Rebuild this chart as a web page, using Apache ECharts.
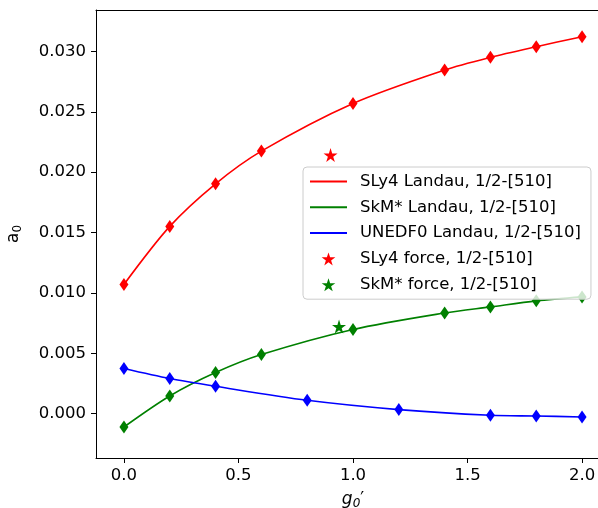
<!DOCTYPE html>
<html>
<head>
<meta charset="utf-8">
<script src="https://cdn.jsdelivr.net/npm/echarts@6/dist/echarts.min.js"></script>
<style>
  html, body { margin: 0; padding: 0; background: #fff; overflow: hidden; }
  #chart { width: 598px; height: 508px; }
</style>
</head>
<body>
<div id="chart"></div>
<script type="text/javascript">
    // x 坐标 (g0')
    var xLandau = [0, 0.2, 0.4, 0.6, 1.0, 1.4, 1.6, 1.8, 2.0];
    var xUnedf = [0, 0.2, 0.4, 0.8, 1.2, 1.6, 1.8, 2.0];
    // a0 数值
    var sly4Landau = [0.01070, 0.01551, 0.01904, 0.02175, 0.02570, 0.02847, 0.02952, 0.03040, 0.03123];
    var skmLandau = [-0.00111, 0.00146, 0.00340, 0.00489, 0.00697, 0.00834, 0.00884, 0.00934, 0.00967];
    var unedfLandau = [0.00373, 0.00290, 0.00226, 0.00110, 0.00033, -0.00014, -0.00020, -0.00028];
    var sly4Force = [[0.902, 0.02142]];
    var skmForce = [[0.939, 0.00721]];
    // 刻度
    var xTicks = [0, 0.5, 1.0, 1.5, 2.0];
    var yTicks = [0, 0.005, 0.010, 0.015, 0.020, 0.025, 0.030];
    var names = ['SLy4 Landau, 1/2-[510]', 'SkM* Landau, 1/2-[510]', 'UNEDF0 Landau, 1/2-[510]',
                 'SLy4 force, 1/2-[510]', 'SkM* force, 1/2-[510]'];

    function pairs(xs, ys) {
        return xs.map(function (x, i) { return [x, ys[i]]; });
    }

    var starPath = 'path://M0,-10 L2.245,-3.09 L9.511,-3.09 L3.633,1.18 L5.878,8.09 L0,3.82 L-5.878,8.09 L-3.633,1.18 L-9.511,-3.09 L-2.245,-3.09 Z';
    var linePath = 'path://M0,0 L37,0 L37,2 L0,2 Z';
    var font = 'DejaVu Sans';

    var chart = echarts.init(document.getElementById('chart'));

    function landau(name, data, color) {
        return {
            name: name,
            type: 'line',
            data: data,
            smooth: 0.3,
            symbol: 'diamond',
            symbolSize: [9, 13],
            lineStyle: { color: color, width: 1.6 },
            itemStyle: { color: color, opacity: 1 },
            z: 3
        };
    }

    var option = {
        animation: false,
        grid: {
            left: 96, top: 10, right: -12, bottom: 50,
            containLabel: false, outerBoundsMode: 'none'
        },
        xAxis: [{
            type: 'value',
            min: -0.122,
            max: 2.122,
            name: '{g|g}{s|0}{p|′}',
            nameLocation: 'middle',
            nameGap: 32,
            nameTextStyle: {
                rich: {
                    g: { fontFamily: font, fontSize: 17, fontStyle: 'italic', color: '#000' },
                    s: { fontFamily: font, fontSize: 12, fontStyle: 'italic', color: '#000', padding: [8, 0, 0, 0] },
                    p: { fontFamily: font, fontSize: 17, color: '#000' }
                }
            },
            axisLine: { show: true, onZero: false, lineStyle: { color: '#000', width: 1 } },
            axisTick: { show: true, length: 5, customValues: xTicks, lineStyle: { color: '#000' } },
            axisLabel: {
                customValues: xTicks, margin: 9, color: '#000', fontFamily: font, fontSize: 16.5,
                formatter: function (v) { return v.toFixed(1); }
            },
            splitLine: { show: false }
        }, {
            // 上边框
            type: 'value',
            position: 'top',
            min: -0.122,
            max: 2.122,
            axisLine: { show: true, onZero: false, lineStyle: { color: '#000', width: 1 } },
            axisTick: { show: false },
            axisLabel: { show: false },
            splitLine: { show: false }
        }],
        yAxis: {
            type: 'value',
            min: -0.00368,
            max: 0.03344,
            name: '{a|a}{s|0}',
            nameLocation: 'middle',
            nameGap: 72,
            nameTextStyle: {
                rich: {
                    a: { fontFamily: font, fontSize: 17, color: '#000' },
                    s: { fontFamily: font, fontSize: 12, color: '#000', padding: [8, 0, 0, 0] }
                }
            },
            axisLine: { show: true, onZero: false, lineStyle: { color: '#000', width: 1 } },
            axisTick: { show: true, length: 5, customValues: yTicks, lineStyle: { color: '#000' } },
            axisLabel: {
                customValues: yTicks, margin: 10, color: '#000', fontFamily: font, fontSize: 16.5,
                formatter: function (v) { return v.toFixed(3); }
            },
            splitLine: { show: false }
        },
        legend: {
            orient: 'vertical',
            left: 303,
            top: 167,
            padding: [6, 10, 6, 7],
            itemGap: 8.8,
            itemWidth: 37,
            itemHeight: 13,
            symbolKeepAspect: true,
            backgroundColor: 'rgba(255,255,255,0.8)',
            borderColor: '#cccccc',
            borderWidth: 1,
            borderRadius: 4,
            textStyle: { fontFamily: font, fontSize: 16.5, color: '#000', padding: [0, 0, 0, 8] },
            data: [
                { name: names[0], icon: linePath },
                { name: names[1], icon: linePath },
                { name: names[2], icon: linePath },
                { name: names[3], icon: starPath },
                { name: names[4], icon: starPath }
            ],
            z: 10
        },
        series: [
            landau(names[0], pairs(xLandau, sly4Landau), '#ff0000'),
            landau(names[1], pairs(xLandau, skmLandau), '#008000'),
            landau(names[2], pairs(xUnedf, unedfLandau), '#0000ff'),
            {
                name: names[3], type: 'scatter', data: sly4Force,
                symbol: starPath, symbolSize: 14, itemStyle: { color: '#ff0000', opacity: 1 }, z: 4
            },
            {
                name: names[4], type: 'scatter', data: skmForce,
                symbol: starPath, symbolSize: 14, itemStyle: { color: '#008000', opacity: 1 }, z: 4
            }
        ]
    };

    chart.setOption(option);
</script>
</body>
</html>
